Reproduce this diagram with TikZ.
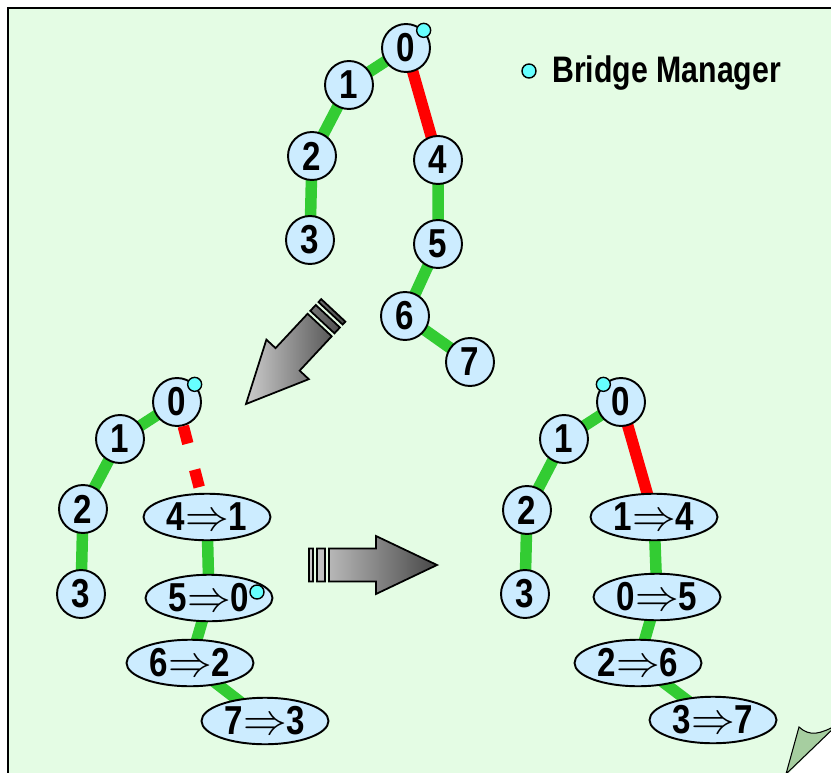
\documentclass[tikz,border=0pt]{standalone}
\usepackage{fontspec}
\usetikzlibrary{calc,backgrounds,shapes.geometric}
\newfontfamily\narrowfont[FakeStretch=0.82]{Liberation Sans}

\definecolor{pagegreen}{RGB}{228,252,228}
\definecolor{flapgreen}{RGB}{166,206,160}
\definecolor{nodeblue}{RGB}{204,236,255}
\definecolor{linkgreen}{RGB}{51,204,51}
\definecolor{linkred}{RGB}{255,0,0}
\definecolor{mgrcyan}{RGB}{102,255,255}

\tikzset{
	bridge/.style={circle, draw, line width=1.1pt, fill=nodeblue, minimum size=0.96cm, inner sep=0pt, font=\narrowfont\bfseries\fontsize{23}{25}\selectfont},
	swapnode/.style={ellipse, draw, line width=1.1pt, fill=nodeblue, minimum width=2.54cm, minimum height=0.93cm, inner sep=0pt, font=\narrowfont\bfseries\fontsize{23}{25}\selectfont},
	manager/.style={circle, draw, line width=0.8pt, fill=mgrcyan, minimum size=0.28cm, inner sep=0pt},
	link/.style={line width=0.23cm, linkgreen},
	cut/.style={line width=0.23cm, linkred},
}

% fat shaded arrow: tip at #1, pointing at angle #2
\def\fatarrow(#1)(#2){
	\begin{scope}[shift={(#1)}, rotate=#2]
		\shade[draw=black, line width=1pt, left color=black!20, right color=black!72]
			(0,0) -- (-61,-29) -- (-61,-16.5) -- (-108,-16.5) -- (-108,16.5) -- (-61,16.5) -- (-61,29) -- cycle
			(-112,-16.5) rectangle (-120,16.5)
			(-124,-16.5) rectangle (-128,16.5);
	\end{scope}}

\begin{document}
\begin{tikzpicture}[x=0.02cm, y=-0.02cm]
		%%%%% PAGE %%%%%
		\clip (0,0) rectangle (831,773);
		\begin{pgfonlayer}{background}
			\fill[white] (0,0) rectangle (831,773);
			\fill[pagegreen] (8,8) -- (840,8) -- (840,722) -- (786,776) -- (8,776) -- cycle;
			\draw[line width=1.2pt] (8,780) -- (8,8) -- (840,8);
		\end{pgfonlayer}
		\draw[fill=flapgreen, line width=0.6pt] (786,774) -- (799,727) .. controls (810,737) and (820,734) .. (837,725) -- cycle;
		
		%%%%% LEGEND %%%%%
		\node[manager] (key) at (529,71) {};
		\node[anchor=west, inner sep=0pt, font=\narrowfont\bfseries\fontsize{21}{23}\selectfont] (keytext) at (552,73) {Bridge Manager};
		
		%%%%% BEFORE %%%%%
		\node[bridge] (t0) at (406,48) {0};
		\node[bridge] (t1) at (349,85) {1};
		\node[bridge] (t2) at (312,156) {2};
		\node[bridge] (t3) at (310,240) {3};
		\node[bridge] (t4) at (438,160) {4};
		\node[bridge] (t5) at (438,244) {5};
		\node[bridge] (t6) at (405,316) {6};
		\node[bridge] (t7) at (470,362) {7};
		\node[manager] (tm) at (t0.north east) {};
		
		%%%%% RENUMBERING %%%%%
		\node[bridge] (l0) at (177,402) {0};
		\node[bridge] (l1) at (120,439) {1};
		\node[bridge] (l2) at (83,509) {2};
		\node[bridge] (l3) at (81,594) {3};
		\node[swapnode] (l41) at (207,517) {4$\Rightarrow$1};
		\node[swapnode] (l50) at (209,598) {5$\Rightarrow$0};
		\node[swapnode] (l62) at (190,663) {6$\Rightarrow$2};
		\node[swapnode] (l73) at (265,721) {7$\Rightarrow$3};
		\node[manager] (lm) at (l0.north east) {};
		\node[manager] (lm2) at ($(l50.center)+(48,-6)$) {};
		
		%%%%% AFTER %%%%%
		\node[bridge] (r0) at (621,402) {0};
		\node[bridge] (r1) at (564,439) {1};
		\node[bridge] (r2) at (527,510) {2};
		\node[bridge] (r3) at (525,594) {3};
		\node[swapnode] (r14) at (654,517) {1$\Rightarrow$4};
		\node[swapnode] (r05) at (657,597) {0$\Rightarrow$5};
		\node[swapnode] (r26) at (638,663) {2$\Rightarrow$6};
		\node[swapnode] (r37) at (713,720) {3$\Rightarrow$7};
		\node[manager] (rm) at (r0.north west) {};
		
		%%%%% LINKS %%%%%
		\begin{pgfonlayer}{background}
			\draw[link] (t0.center) -- (t1.center) -- (t2.center) -- (t3.center);
			\draw[cut] (t0.center) -- (t4.center);
			\draw[link] (t4.center) -- (t5.center) -- (t6.center) -- (t7.center);
			
			\draw[link] (l0.center) -- (l1.center) -- (l2.center) -- (l3.center);
			\draw[link] (l41.center) -- (l50.center) -- (l62.center) -- (l73.center);
			
			\draw[link] (r0.center) -- (r1.center) -- (r2.center) -- (r3.center);
			\draw[cut] (r0.center) -- (r14.center);
			\draw[link] (r14.center) -- (r05.center) -- (r26.center) -- (r37.center);
		\end{pgfonlayer}
		\draw[cut, dash pattern=on 0.36cm off 0.54cm] (l0) -- (l41);
		
		%%%%% ARROWS %%%%%
		\fatarrow(246,404)(227)
		\fatarrow(437,565)(0)
		
	\end{tikzpicture}
\end{document}
